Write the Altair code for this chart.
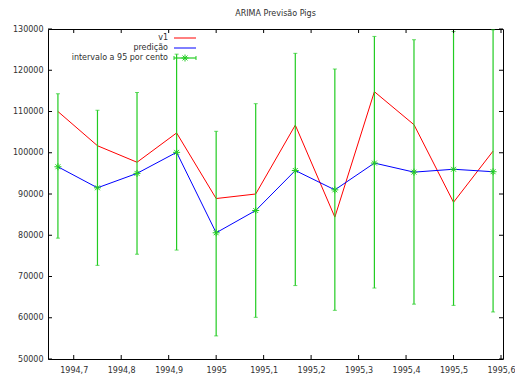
import altair as alt
import pandas as pd

# Monthly time axis (decimal years)
T = [1994.6667, 1994.75, 1994.8333, 1994.9167, 1995.0, 1995.0833,
     1995.1667, 1995.25, 1995.3333, 1995.4167, 1995.5, 1995.5833]
# observed series
V1 = [110000, 101700, 97700, 104800, 88900, 90000,
      106700, 84400, 114800, 106800, 88000, 100400]
# ARIMA forecast
PRED = [96600, 91500, 95000, 100100, 80600, 86000,
        95700, 91000, 97500, 95300, 96000, 95400]
# 95% interval bounds
LO = [79300, 72700, 75400, 76400, 55600, 60100,
      67800, 61800, 67200, 63300, 63000, 61400]
HI = [114300, 110300, 114600, 123900, 105200, 111900,
      124100, 120300, 128200, 127400, 129400, 129800]

X_TICKS = [1994.7, 1994.8, 1994.9, 1995.0, 1995.1, 1995.2, 1995.3, 1995.4, 1995.5, 1995.6]
Y_TICKS = [50000, 60000, 70000, 80000, 90000, 100000, 110000, 120000, 130000]
X_DOMAIN = [1994.6458, 1995.6042]
Y_DOMAIN = [50000, 130000]

RED, BLUE, GREEN = "#ff0000", "#0000ff", "#22cc22"
FONT = "DejaVu Sans"
TXT = "#303030"
W, H = 455, 330
ASTERISK = "M-1,0L1,0M0,-1L0,1M-0.7,-0.7L0.7,0.7M-0.7,0.7L0.7,-0.7"

df = pd.DataFrame({"t": T, "v1": V1, "pred": PRED, "lo": LO, "hi": HI})
xt = pd.DataFrame({"t": X_TICKS})
yt = pd.DataFrame({"t": Y_TICKS})

xs = alt.Scale(domain=X_DOMAIN, nice=False, zero=False)
ys = alt.Scale(domain=Y_DOMAIN, nice=False, zero=False)

x_axis = alt.Axis(values=X_TICKS, title=None, grid=False, domain=False, ticks=False,
                  labelFont=FONT, labelFontSize=8, labelColor=TXT, labelPadding=7,
                  labelExpr="replace(toString(datum.value), '.', ',')")
y_axis = alt.Axis(values=Y_TICKS, title=None, grid=False, domain=False, ticks=False,
                  labelFont=FONT, labelFontSize=8, labelColor=TXT, labelPadding=5,
                  format="d")


def X(field):
    return alt.X(field, type="quantitative", scale=xs, axis=x_axis)


def Y(field):
    return alt.Y(field, type="quantitative", scale=ys, axis=y_axis)


base = alt.Chart(df)

red_line = base.mark_line(color=RED, strokeWidth=1).encode(x=X("t"), y=Y("v1"))
blue_line = base.mark_line(color=BLUE, strokeWidth=1).encode(x=X("t"), y=Y("pred"))
bars = base.mark_rule(color=GREEN, strokeWidth=1.2).encode(x=X("t"), y=Y("lo"), y2="hi:Q")
cap_lo = base.mark_tick(color=GREEN, orient="horizontal", size=4, thickness=1).encode(
    x=X("t"), y=Y("lo"))
cap_hi = base.mark_tick(color=GREEN, orient="horizontal", size=4, thickness=1).encode(
    x=X("t"), y=Y("hi"))
stars = base.mark_point(shape=ASTERISK, filled=False, color=GREEN,
                        strokeWidth=1, size=49, opacity=1).encode(x=X("t"), y=Y("pred"))

# inward tick marks on all four sides of the frame
tick_style = dict(color="black", strokeWidth=1)
xt_bottom = alt.Chart(xt).mark_rule(**tick_style).encode(
    x=X("t"), y=alt.value(H), y2=alt.value(H - 4))
xt_top = alt.Chart(xt).mark_rule(**tick_style).encode(
    x=X("t"), y=alt.value(0), y2=alt.value(4))
yt_left = alt.Chart(yt).mark_rule(**tick_style).encode(
    y=Y("t"), x=alt.value(0), x2=alt.value(4))
yt_right = alt.Chart(yt).mark_rule(**tick_style).encode(
    y=Y("t"), x=alt.value(W), x2=alt.value(W - 4))

# key in the upper-left corner
one = alt.Data(values=[{}])


def key_text(label, yv):
    return alt.Chart(one).mark_text(align="right", baseline="middle", font=FONT,
                                    fontSize=8, color=TXT).encode(
        x=alt.value(120), y=alt.value(yv), text=alt.value(label))


def key_rule(color, yv):
    return alt.Chart(one).mark_rule(color=color, strokeWidth=1).encode(
        x=alt.value(126), x2=alt.value(148), y=alt.value(yv))


key = [
    key_text("v1", 9), key_rule(RED, 9),
    key_text("predição", 19), key_rule(BLUE, 19),
    key_text("intervalo a 95 por cento", 29),
    alt.Chart(one).mark_rule(color=GREEN, strokeWidth=1.2).encode(
        x=alt.value(126), x2=alt.value(148), y=alt.value(29)),
    alt.Chart(one).mark_rule(color=GREEN, strokeWidth=1).encode(
        x=alt.value(126), y=alt.value(27), y2=alt.value(31)),
    alt.Chart(one).mark_rule(color=GREEN, strokeWidth=1).encode(
        x=alt.value(148), y=alt.value(27), y2=alt.value(31)),
    alt.Chart(one).mark_point(shape=ASTERISK, filled=False, color=GREEN,
                              strokeWidth=1, size=49, opacity=1).encode(
        x=alt.value(137), y=alt.value(29)),
]

title = alt.Chart(one).mark_text(align="center", baseline="middle", font=FONT,
                                 fontSize=8, color=TXT).encode(
    x=alt.value(W / 2), y=alt.value(-15), text=alt.value("ARIMA Previsão Pigs"))

chart = alt.layer(
    red_line, blue_line, bars, cap_lo, cap_hi, stars,
    xt_bottom, xt_top, yt_left, yt_right, *key, title,
).properties(
    width=W, height=H,
    autosize=alt.AutoSizeParams(type="none"),
    padding={"left": 48, "top": 29, "right": 12, "bottom": 19},
    background="white",
).configure_view(stroke="black", strokeWidth=1)

chart.save("out.html", embed_options={"renderer": "svg", "actions": False})
